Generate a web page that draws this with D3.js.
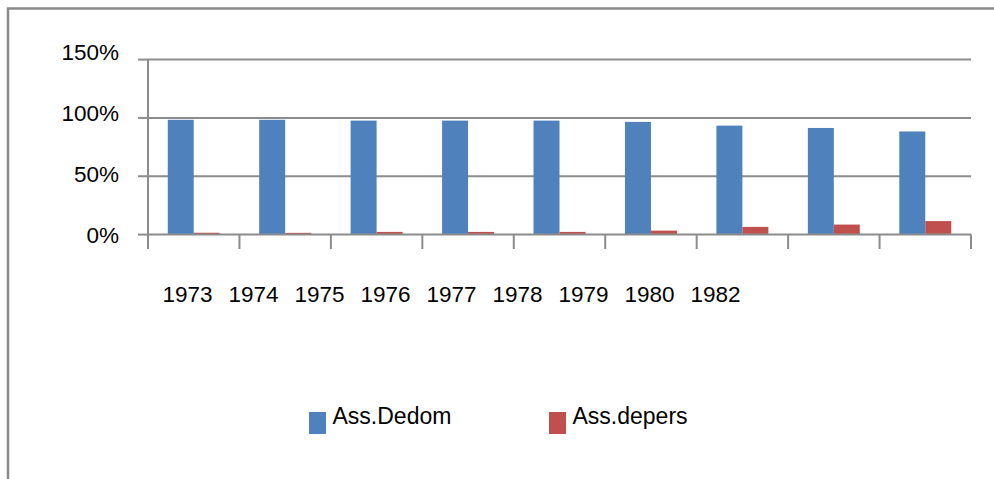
<!DOCTYPE html>
<html>
<head>
<meta charset="utf-8">
<script src="https://cdn.jsdelivr.net/npm/d3@7"></script>
<style>
  html, body { margin: 0; padding: 0; background: #fff; }
  svg { display: block; font-family: "Liberation Sans", Arial, sans-serif; }
</style>
</head>
<body>
<svg id="chart" width="994" height="479"></svg>
<script>
const years = ["1973", "1974", "1975", "1976", "1977", "1978", "1979", "1980", "1982"];
const seriesNames = ["Ass.Dedom", "Ass.depers"];
const dedom = [98.4, 98.4, 97.7, 97.7, 97.7, 96.6, 93.4, 91.4, 88.4];
const depers = [1.6, 1.5, 2.3, 2.3, 2.3, 3.4, 6.6, 8.6, 11.6];
const yTicks = [0, 50, 100, 150];
const colors = ["#4F81BD", "#C0504D"];

const svg = d3.select("#chart");
const gridColor = "#8c8c8c";

// outer frame (partially off-canvas, as in reference)
svg.append("rect")
  .attr("x", 8).attr("y", 8.5)
  .attr("width", 1100).attr("height", 600)
  .attr("fill", "none").attr("stroke", "#8a8a8a").attr("stroke-width", 2.5);

const x0 = 148, x1 = 971;
const y = d3.scaleLinear().domain([0, 150]).range([234.6, 59.6]);
const yLabel = d3.scaleLinear().domain([0, 150]).range([235, 52]);
const x = d3.scaleBand().domain(years).range([x0, x1]).paddingInner(0).paddingOuter(0);
const xs = d3.scaleBand().domain(seriesNames).range([0, x.bandwidth()]).paddingInner(0).paddingOuter(0.76);

// gridlines
svg.append("g").selectAll("line").data(yTicks.filter(d => d > 0)).join("line")
  .attr("x1", x0).attr("x2", x1)
  .attr("y1", d => y(d)).attr("y2", d => y(d))
  .attr("stroke", gridColor).attr("stroke-width", 2);

// y axis line and ticks
svg.append("line").attr("x1", x0).attr("x2", x0).attr("y1", y(150)).attr("y2", 249)
  .attr("stroke", gridColor).attr("stroke-width", 2);
svg.append("g").selectAll("line").data(yTicks).join("line")
  .attr("x1", 138).attr("x2", x0)
  .attr("y1", d => y(d)).attr("y2", d => y(d))
  .attr("stroke", gridColor).attr("stroke-width", 2);

// y labels
svg.append("g").selectAll("text").data(yTicks).join("text")
  .attr("x", 119).attr("y", d => yLabel(d))
  .attr("dy", "0.36em")
  .attr("text-anchor", "end")
  .attr("font-size", 22.5).attr("fill", "#000")
  .text(d => d + "%");

// bars
const data = years.map((yr, i) => ({ yr, vals: [dedom[i], depers[i]] }));
const groups = svg.append("g").selectAll("g").data(data).join("g")
  .attr("transform", d => `translate(${x(d.yr)},0)`);
groups.selectAll("rect").data(d => d.vals.map((v, j) => ({ v, s: seriesNames[j], c: colors[j] }))).join("rect")
  .attr("x", d => xs(d.s))
  .attr("width", xs.bandwidth())
  .attr("y", d => y(d.v))
  .attr("height", d => y(0) - y(d.v))
  .attr("fill", d => d.c);

// x axis line and category ticks
svg.append("line").attr("x1", x0).attr("x2", x1).attr("y1", y(0)).attr("y2", y(0))
  .attr("stroke", gridColor).attr("stroke-width", 2);
const bounds = years.map(d => x(d)).concat([x1]);
svg.append("g").selectAll("line").data(bounds).join("line")
  .attr("x1", d => d).attr("x2", d => d)
  .attr("y1", y(0)).attr("y2", 249)
  .attr("stroke", gridColor).attr("stroke-width", 2);

// category labels (compact row, as in reference)
const xl = d3.scaleBand().domain(years).range([154.5, 748.5]);
svg.append("g").selectAll("text").data(years).join("text")
  .attr("x", d => xl(d) + xl.bandwidth() / 2)
  .attr("y", 302)
  .attr("text-anchor", "middle")
  .attr("font-size", 22.5).attr("fill", "#000")
  .text(d => d);

// legend
const legX = [309, 549];
const leg = svg.append("g").selectAll("g").data(seriesNames).join("g")
  .attr("transform", (d, i) => `translate(${legX[i]},0)`);
leg.append("rect").attr("x", 0).attr("y", 412).attr("width", 17).attr("height", 22)
  .attr("fill", (d, i) => colors[i]);
leg.append("text").attr("x", 23.5).attr("y", 424)
  .attr("font-size", 23).attr("fill", "#000")
  .text(d => d);
</script>
</body>
</html>
